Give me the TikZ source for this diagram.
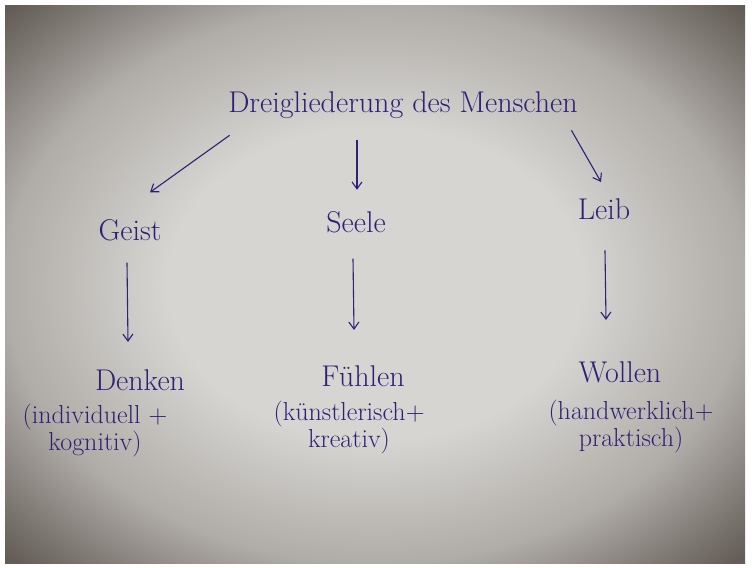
\documentclass[tikz,border=0pt]{standalone}
\usetikzlibrary{arrows.meta}
\definecolor{ink}{RGB}{48,32,118}
\definecolor{paperlight}{RGB}{214,213,210}
\definecolor{papermid}{RGB}{176,172,167}
\definecolor{paperdark}{RGB}{98,91,86}
\pgfdeclareradialshading{vignette}{\pgfpoint{0bp}{0bp}}{color(0bp)=(paperlight); color(14bp)=(paperlight); color(25bp)=(papermid); color(35bp)=(paperdark); color(50bp)=(paperdark)}
\begin{document}
\begin{tikzpicture}[x=1pt,y=-1pt,
		word/.style={inner sep=0pt,text=ink,font=\fontsize{30}{34}\selectfont,anchor=base},
		note/.style={inner sep=0pt,text=ink,align=center,font=\fontsize{26}{27}\selectfont},
		arr/.style={draw=ink,line width=1.1pt,-{Straight Barb[length=7pt,width=10pt]}}]
			% Draw paper
			\fill[white] (0,0) rectangle (753,568);
			\shade[shading=vignette] (5,5) rectangle (745,563);
			\useasboundingbox (0,0) rectangle (753,568);
			% Draw title
			\node[word] (title) at (403,112) {Dreigliederung des Menschen};
			% Draw the three parts
			\node[word] (geist) at (130,240) {Geist};
			\node[word] (seele) at (356,232) {Seele};
			\node[word] (leib) at (604,219) {Leib};
			% Draw the three activities
			\node[word] (denken) at (140,390) {Denken};
			\node[word] (fuehlen) at (363,386) {Fühlen};
			\node[word] (wollen) at (620,382) {Wollen};
			\node[note] (denkennote) at (95,431) {(individuell +\\kognitiv)};
			\node[note] (fuehlennote) at (349,428) {(künstlerisch+\\kreativ)};
			\node[note] (wollennote) at (631,427) {(handwerklich+\\praktisch)};
			% Draw arrows from title
			\draw[arr] ([xshift=1.5pt,yshift=-17pt]title.south west) -- ([xshift=20pt,yshift=26.5pt]geist.north);
			\draw[arr] ([xshift=-46pt,yshift=-22pt]title.south) -- ([xshift=1pt,yshift=21pt]seele.north);
			\draw[arr] ([xshift=-6.5pt,yshift=-12pt]title.south east) -- ([xshift=-3pt,yshift=16pt]leib.north);
			% Draw arrows down to activities
			\draw[arr] ([xshift=-3pt,yshift=-22pt]geist.south) -- ([xshift=-12pt,yshift=27pt]denken.north);
			\draw[arr] ([xshift=-3pt,yshift=-26pt]seele.south) -- ([xshift=-9pt,yshift=35pt]fuehlen.north);
			\draw[arr] ([xshift=1pt,yshift=-31pt]leib.south) -- ([xshift=-14pt,yshift=41pt]wollen.north);
		\end{tikzpicture}
\end{document}
